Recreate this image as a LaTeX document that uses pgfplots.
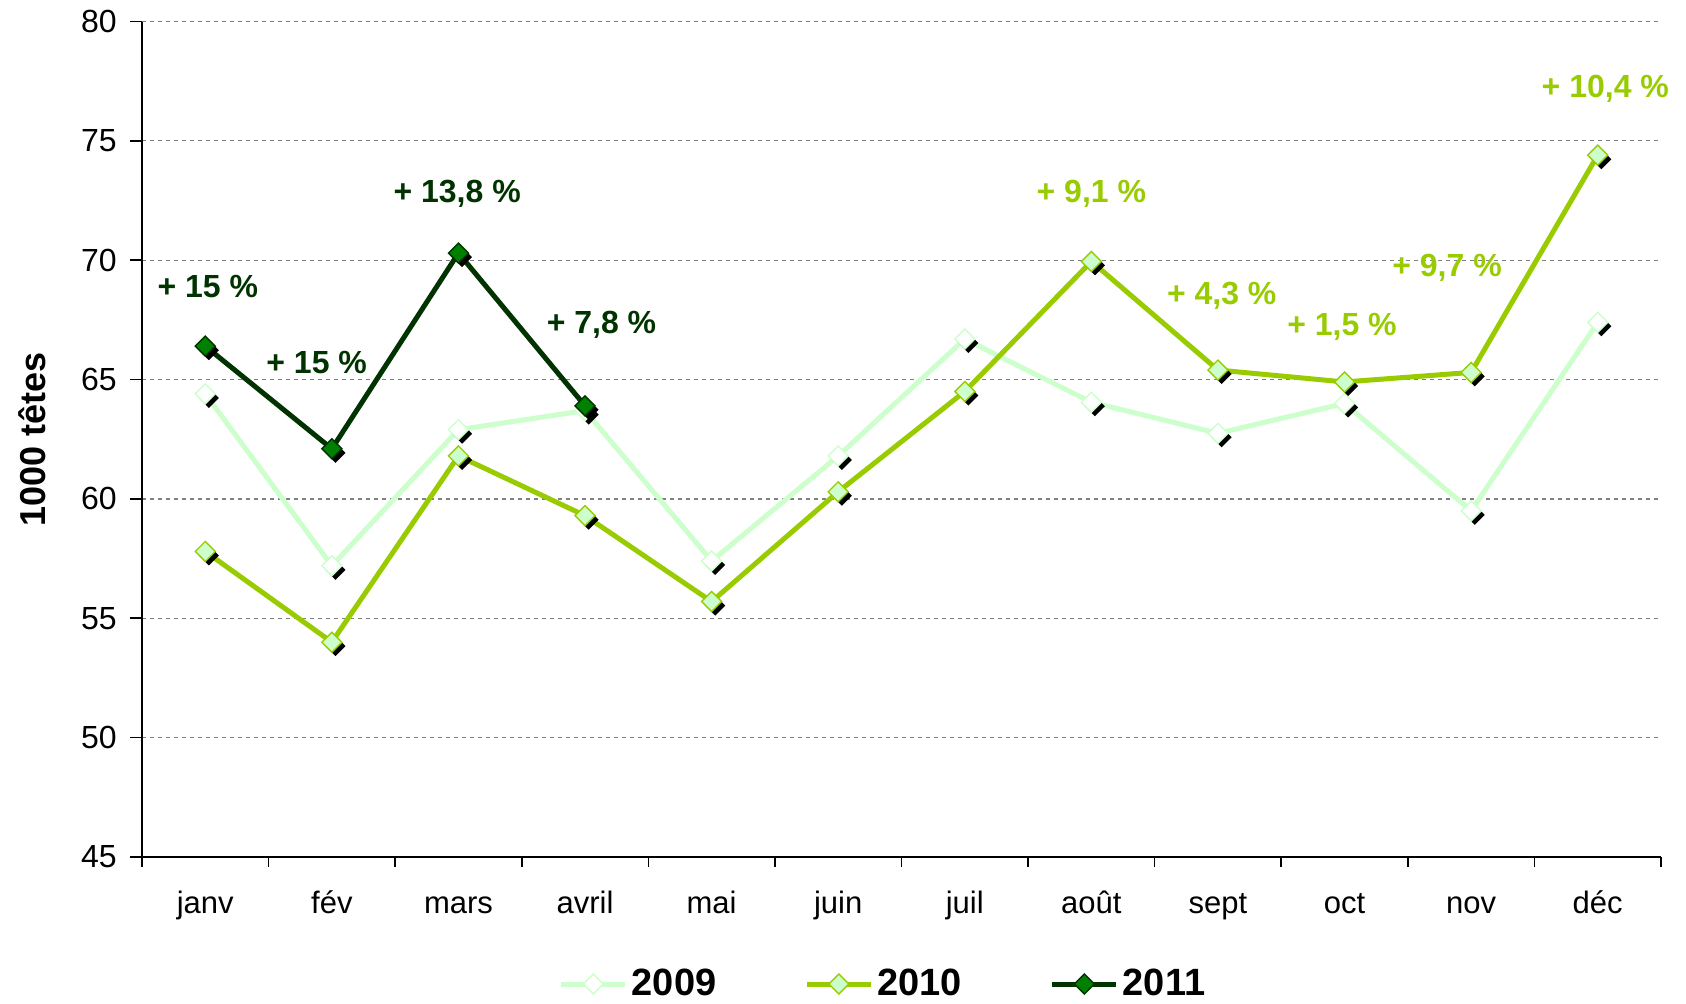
\documentclass[border=0pt]{standalone}
\usepackage{pgfplots}
\pgfplotsset{compat=1.18}
\usepackage{fontspec}
\setmainfont{Liberation Sans}
\definecolor{c09}{HTML}{CCFFCC}
\definecolor{c10}{HTML}{99CC00}
\definecolor{c11}{HTML}{003300}
\definecolor{c11f}{HTML}{008000}
\definecolor{gridc}{HTML}{808080}

\pgfdeclareplotmark{sdiamond}{%
  \pgfscope
  \pgfsetfillcolor{black}%
  \pgftransformshift{\pgfqpoint{1.8pt}{-2pt}}%
  \pgfpathmoveto{\pgfqpoint{0pt}{\pgfplotmarksize}}%
  \pgfpathlineto{\pgfqpoint{\pgfplotmarksize}{0pt}}%
  \pgfpathlineto{\pgfqpoint{0pt}{-\pgfplotmarksize}}%
  \pgfpathlineto{\pgfqpoint{-\pgfplotmarksize}{0pt}}%
  \pgfpathclose
  \pgfusepathqfill
  \endpgfscope
  \pgfpathmoveto{\pgfqpoint{0pt}{\pgfplotmarksize}}%
  \pgfpathlineto{\pgfqpoint{\pgfplotmarksize}{0pt}}%
  \pgfpathlineto{\pgfqpoint{0pt}{-\pgfplotmarksize}}%
  \pgfpathlineto{\pgfqpoint{-\pgfplotmarksize}{0pt}}%
  \pgfpathclose
  \pgfusepathqfillstroke
}
\pgfdeclareplotmark{pdiamond}{%
  \pgfpathmoveto{\pgfqpoint{0pt}{\pgfplotmarksize}}%
  \pgfpathlineto{\pgfqpoint{\pgfplotmarksize}{0pt}}%
  \pgfpathlineto{\pgfqpoint{0pt}{-\pgfplotmarksize}}%
  \pgfpathlineto{\pgfqpoint{-\pgfplotmarksize}{0pt}}%
  \pgfpathclose
  \pgfusepathqfillstroke
}

\begin{document}
\begin{tikzpicture}
\begin{axis}[
  scale only axis,
  width=759.5pt, height=417.75pt,
  xmin=-0.5, xmax=11.5, ymin=45, ymax=80,
  clip=false,
  axis x line=bottom, axis y line=left,
  axis line style={-, line width=1pt, black},
  xtick={0,...,11},
  xticklabels={janv,fév,mars,avril,mai,juin,juil,août,sept,oct,nov,déc},
  every major x tick/.append style={draw=none},
  minor xtick={-0.5,0.5,...,11.5},
  minor tick length=5pt,
  major tick length=6pt,
  tick align=outside,
  tick style={line width=0.8pt, black},
  ytick={45,50,...,80},
  ymajorgrids,
  major grid style={dash pattern=on 2pt off 2pt, gridc, line width=0.6pt},
  /pgf/number format/assume math mode=true,
  ticklabel style={font=\fontsize{15.5}{18}\selectfont},
  xticklabel style={anchor=base, yshift=-22pt},
  yticklabel style={anchor=east, inner sep=0pt, xshift=-6.5pt, font=\fontsize{16}{18}\selectfont},
  ylabel={1000 têtes},
  ylabel style={at={(axis description cs:-0.0725,0.5)}, anchor=center, font=\fontsize{18}{21}\selectfont\bfseries},
  legend style={at={(axis description cs:0.4885,-0.152)}, anchor=center, draw=none, fill=none,
    legend columns=3, font=\fontsize{19}{22}\selectfont\bfseries,
    /tikz/every even column/.append style={column sep=42pt}, inner sep=0pt},
  legend cell align=left,
  legend image code/.code={\draw[mark=pdiamond, mark repeat=2, mark phase=2] plot coordinates {(0pt,0pt) (16pt,0pt) (32pt,0pt)};},
]
\addplot[c09, line width=2.5pt, mark=sdiamond, mark size=5pt, mark options={solid, line width=0.7pt, draw=c09, fill=white}]
  coordinates {(0,64.4) (1,57.2) (2,62.9) (3,63.7) (4,57.4) (5,61.8) (6,66.7) (7,64.05) (8,62.75) (9,64.0) (10,59.5) (11,67.4)};
\addlegendentry{2009}
\addplot[c10, line width=2.5pt, mark=sdiamond, mark size=5pt, mark options={solid, line width=0.7pt, draw=c10, fill=c09}]
  coordinates {(0,57.8) (1,54.0) (2,61.8) (3,59.3) (4,55.7) (5,60.3) (6,64.5) (7,69.95) (8,65.4) (9,64.9) (10,65.3) (11,74.4)};
\addlegendentry{2010}
\addplot[c11, line width=2.5pt, mark=sdiamond, mark size=5pt, mark options={solid, line width=0.7pt, draw=c11, fill=c11f}]
  coordinates {(0,66.4) (1,62.1) (2,70.3) (3,63.9)};
\addlegendentry{2011}
\begin{scope}[every node/.style={font=\fontsize{16}{19}\selectfont\bfseries}]
\node[text=c11] at (axis cs:0.02,68.9) {+ 15 \%};
\node[text=c11] at (axis cs:0.88,65.7) {+ 15 \%};
\node[text=c11] at (axis cs:1.99,72.8) {+ 13,8 \%};
\node[text=c11] at (axis cs:3.13,67.3) {+ 7,8 \%};
\node[text=c10] at (axis cs:7.0,72.8) {+ 9,1 \%};
\node[text=c10] at (axis cs:8.03,68.5) {+ 4,3 \%};
\node[text=c10] at (axis cs:8.98,67.2) {+ 1,5 \%};
\node[text=c10] at (axis cs:9.81,69.7) {+ 9,7 \%};
\node[text=c10] at (axis cs:11.06,77.2) {+ 10,4 \%};
\end{scope}
\end{axis}
\pgfresetboundingbox
\useasboundingbox (-71pt,-73pt) rectangle (772pt,428.5pt);
\end{tikzpicture}
\end{document}
